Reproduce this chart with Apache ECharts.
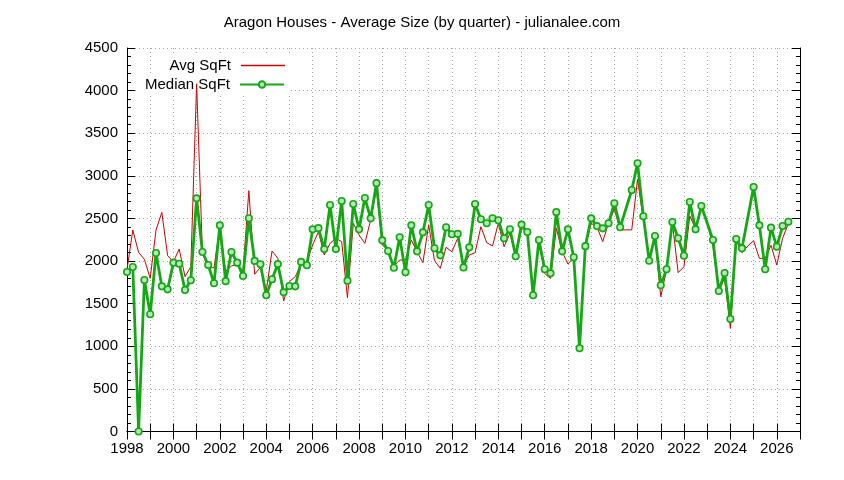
<!DOCTYPE html>
<html>
<head>
<meta charset="utf-8">
<script src="https://cdn.jsdelivr.net/npm/echarts@6/dist/echarts.min.js"></script>
<style>html,body{margin:0;padding:0;background:#fff}#c{width:844px;height:480px}</style>
</head>
<body>
<div id="c"></div>
<script>
const startYear = 1998;
const quarterCount = 115;
const xTickLabels = [1998,2000,2002,2004,2006,2008,2010,2012,2014,2016,2018,2020,2022,2024,2026];
const avgSqFt = [
1900,2364,2102,2020,1797,2364,2572,2063,1992,2141,1817,1934,4080,2090,1920,1922,
2400,1880,1942,1962,1883,2826,1845,1927,1650,2118,2032,1531,1758,1817,1960,1990,
2188,2345,2071,2208,2267,2228,1570,2443,2306,2208,2482,2850,2188,2130,1942,2012,
2012,2247,2110,1981,2423,2004,1915,2161,2110,2267,1934,2071,2098,2403,2216,2177,
2443,2169,2325,2056,2384,2330,1598,2230,1852,1797,2384,2110,1965,2044,985,2170,
2443,2400,2228,2443,2610,2366,2366,2366,2959,2482,2040,2290,1582,1900,2450,1864,
1934,2529,2380,2625,2450,2169,1645,1800,1211,2247,2098,2177,2239,2032,2032,2185,
1954,2267,2440];
const medianSqFt = [
1871,1930,0,1778,1375,2094,1703,1668,1981,1969,1660,1774,2736,2106,1954,1739,
2419,1764,2106,1981,1825,2503,2002,1962,1598,1786,1964,1633,1707,1703,1990,1950,
2372,2386,2140,2658,2140,2705,1770,2669,2372,2740,2501,2914,2243,2118,1922,2279,
1868,2419,2114,2337,2658,2150,2067,2396,2314,2319,1925,2161,2669,2491,2443,2503,
2478,2267,2374,2056,2428,2341,1598,2247,1903,1856,2574,2114,2372,2044,976,2175,
2501,2410,2384,2443,2679,2396,null,2834,3147,2525,2004,2294,1716,1903,2458,2267,
2063,2693,2372,2646,null,2247,1649,1860,1320,2259,2149,null,2869,2419,1903,2392,
2169,2411,2462];

const quarters = [];
for (let i = 0; i < quarterCount; i++) quarters.push(startYear + i / 4);

const FONT = 'Liberation Sans';
const FS = 15;
const dotted = { show: true, lineStyle: { color: '#a8a8a8', width: 1, type: [1, 3] } };
const RED = '#d40000';
const GREEN = '#14a814';

const chart = echarts.init(document.getElementById('c'), null, { renderer: 'canvas' });
chart.setOption({
  animation: false,
  backgroundColor: '#fff',
  title: {
    text: 'Aragon Houses - Average Size (by quarter) - julianalee.com',
    left: 'center', top: 10,
    textStyle: { fontFamily: FONT, fontSize: FS, fontWeight: 'normal', color: '#000' }
  },
  legend: [
    {
      data: ['Avg SqFt'],
      right: 553, top: 56, align: 'right', z: 1,
      itemWidth: 44, itemHeight: 1.5, itemGap: 0, icon: 'rect',
      itemStyle: { color: RED, borderWidth: 0 },
      backgroundColor: '#fff', padding: [2, 6, 2, 8],
      textStyle: { fontFamily: FONT, fontSize: FS, color: '#000', padding: [0, 5, 0, 0] }
    },
    {
      data: ['Median SqFt'],
      right: 553, top: 75, align: 'right', z: 1,
      itemWidth: 44, itemHeight: 8, itemGap: 0,
      backgroundColor: '#fff', padding: [2, 6, 2, 8],
      textStyle: { fontFamily: FONT, fontSize: FS, color: '#000', padding: [0, 5, 0, 0] }
    }
  ],
  grid: { left: 127, right: 44, top: 48, bottom: 48.5 },
  xAxis: [
    {
      type: 'value', min: 1998, max: 2027, interval: 1,
      axisLine: { lineStyle: { color: '#000', width: 1 } },
      axisTick: { inside: true, length: 8, lineStyle: { color: '#000' } },
      axisLabel: {
        margin: 10, color: '#000', fontFamily: FONT, fontSize: FS,
        formatter: v => (xTickLabels.indexOf(v) >= 0 ? String(v) : '')
      },
      splitLine: dotted
    },
    {
      type: 'value', position: 'top', min: 1998, max: 2027, interval: 1,
      axisLine: { lineStyle: { color: '#000', width: 1 } },
      axisTick: { inside: true, length: 8, lineStyle: { color: '#000' } },
      axisLabel: { show: false }, splitLine: { show: false }
    }
  ],
  yAxis: [
    {
      type: 'value', min: 0, max: 4500, interval: 500,
      axisLine: { show: true, lineStyle: { color: '#000', width: 1 } },
      axisTick: { show: true, inside: true, length: 8, lineStyle: { color: '#000' } },
      minorTick: { show: true, splitNumber: 5, length: 4, lineStyle: { color: '#000' } },
      axisLabel: { margin: 9, color: '#000', fontFamily: FONT, fontSize: FS, formatter: v => String(v) },
      splitLine: dotted
    },
    {
      type: 'value', position: 'right', min: 0, max: 4500, interval: 500,
      axisLine: { show: true, lineStyle: { color: '#000', width: 1 } },
      axisTick: { show: true, inside: true, length: 8, lineStyle: { color: '#000' } },
      minorTick: { show: true, splitNumber: 5, length: 4, lineStyle: { color: '#000' } },
      axisLabel: { show: false }, splitLine: { show: false }
    }
  ],
  series: [
    {
      name: 'Avg SqFt', type: 'line', symbol: 'none', z: 2,
      lineStyle: { color: RED, width: 1 },
      itemStyle: { color: RED },
      data: quarters.map((q, i) => [q, avgSqFt[i]])
    },
    {
      name: 'Median SqFt', type: 'line', symbol: 'circle', symbolSize: 6.5, showSymbol: true,
      connectNulls: true, z: 3,
      lineStyle: { color: GREEN, width: 2.8 },
      itemStyle: { color: '#b8e6b8', borderColor: GREEN, borderWidth: 1.6 },
      data: quarters.map((q, i) => [q, medianSqFt[i]])
    }
  ]
});
</script>
</body>
</html>
